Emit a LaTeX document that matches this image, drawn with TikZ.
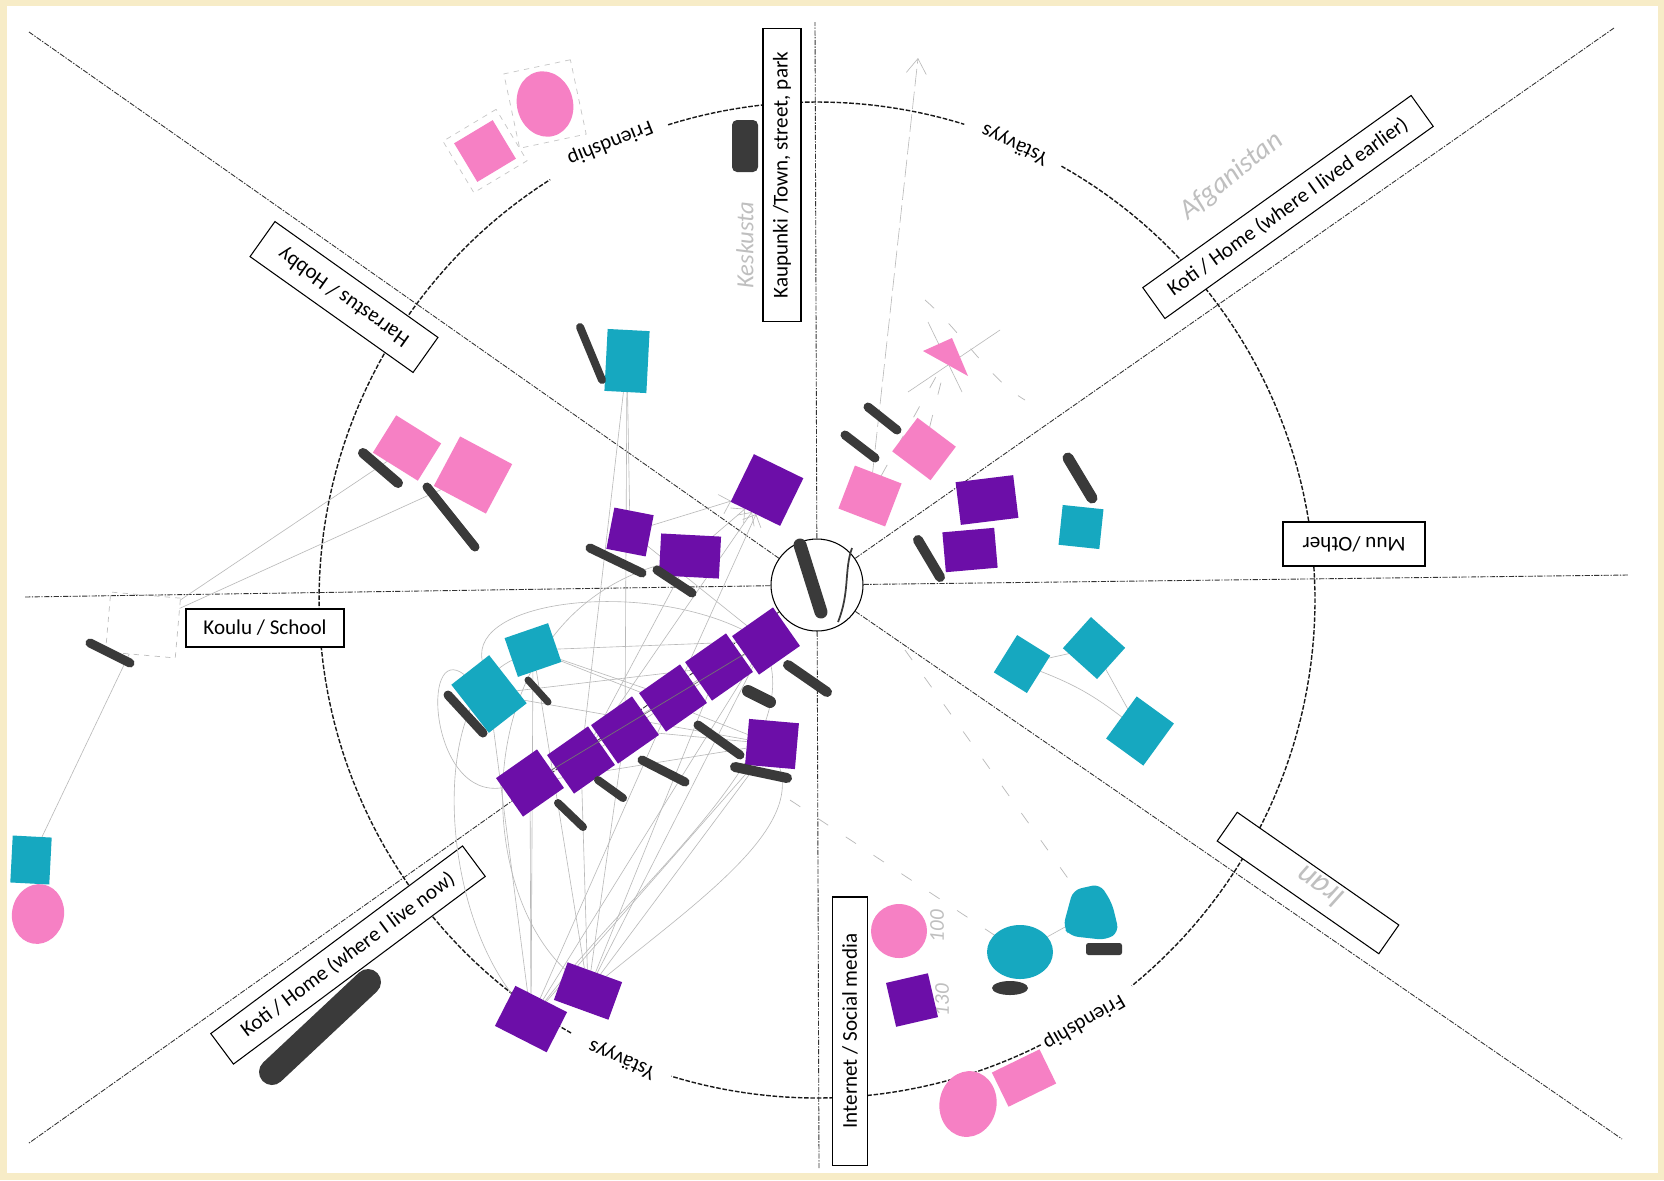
\documentclass[tikz,border=0pt]{standalone}
\usepackage{fontspec}
\setmainfont{Carlito}
\usepackage{tikz}
\usetikzlibrary{arrows.meta,shapes.geometric}
\definecolor{scanbg}{RGB}{247,236,199}
\definecolor{pk}{RGB}{246,128,196}
\definecolor{cy}{RGB}{22,168,192}
\definecolor{pu}{RGB}{108,14,168}
\definecolor{ink}{RGB}{58,58,58}
\pgfdeclarelayer{under}
\pgfsetlayers{under,main}
\tikzset{
  ax/.style={line width=0.5pt,black!80,dash pattern=on 3pt off 0.8pt on 0.8pt off 0.8pt},
  rim/.style={line width=0.8pt,black!90,dash pattern=on 2.6pt off 1pt},
  lbl/.style={draw,line width=0.6pt,fill=white,inner sep=0pt,font=\fontsize{12}{14}\selectfont},
  arclbl/.style={inner sep=0pt,font=\fontsize{12}{14}\selectfont},
  stk/.style={inner sep=0pt,outer sep=0pt},
  pen/.style={ink,line cap=round,line width=#1*0.2mm},
  pen/.default=9,
  pcl/.style={gray!55,line width=0.35pt},
  pcld/.style={gray!55,line width=0.4pt,dash pattern=on 7pt off 12pt},
  hand/.style={gray!50,inner sep=0pt,font=\itshape\fontsize{16}{18}\selectfont}
}
\newcommand{\pxu}{0.2mm}
\newcommand{\stick}[6]{\node[stk,fill=#1,minimum width=#4*\pxu,minimum height=#5*\pxu,rotate=#6] (#2) at (#3) {};}
\newcommand{\blob}[6]{\node[stk,ellipse,fill=#1,minimum width=#4*\pxu,minimum height=#5*\pxu,rotate=#6] (#2) at (#3) {};}

\begin{document}
\begin{tikzpicture}[x=0.2mm,y=-0.2mm]
\useasboundingbox (0,0) rectangle (1664,1180);

\begin{pgfonlayer}{under}
\fill[scanbg] (0,0) rectangle (1664,1180);
\fill[white] (7,6) rectangle (1658,1173);
% sectors
\node[draw,circle,line width=0.6pt,minimum size=92*\pxu,inner sep=0pt] (me) at (817,585) {};
\coordinate (tl) at (29,32); \coordinate (br) at (1622,1139);
\coordinate (bl) at (29,1143); \coordinate (tr) at (1614,28);
\coordinate (hl) at (24,597); \coordinate (hr) at (1628,575);
\coordinate (vt) at (815,22); \coordinate (vb) at (819,1168);
\foreach \e in {tl,br,bl,tr,hl,hr,vt,vb} \draw[ax] (me) -- (\e);
\foreach \a/\b in {63.3/107,119.6/237.6,252.6/287.2,299.4/410.8}
  \draw[rim] plot[domain=\a:\b,samples=70] ({817+498*cos(\x)},{600+498*sin(\x)});
\node[arclbl,rotate=202] (f1) at (610,143) {Friendship};
\node[arclbl,rotate=155] (y1) at (1015,144) {Ystävyys};
\node[arclbl,rotate=156] (y2) at (622,1059) {Ystävyys};
\node[arclbl,rotate=210] (f2) at (1084,1022) {Friendship};
% category boxes
\node[lbl,rotate=90,minimum width=293*\pxu,minimum height=38*\pxu] (town) at (782,175) {Kaupunki /Town, street, park};
\node[lbl,rotate=35.6,minimum width=330*\pxu,minimum height=38*\pxu] (oldhome) at (1288,207) {Koti / Home (where I lived earlier)};
\node[lbl,rotate=180,minimum width=142*\pxu,minimum height=44*\pxu] (other) at (1354,544) {Muu /Other};
\node[lbl,minimum width=158*\pxu,minimum height=38*\pxu] (school) at (265,628) {Koulu / School};
\node[lbl,rotate=144.6,minimum width=200*\pxu,minimum height=43*\pxu] (hobby) at (344,297) {Harrastus / Hobby};
\node[lbl,rotate=36.7,minimum width=314*\pxu,minimum height=38*\pxu] (home) at (348,955) {Koti / Home (where I live now)};
\node[lbl,rotate=90,minimum width=268*\pxu,minimum height=35*\pxu] (net) at (850,1031) {Internet / Social media};
\node[lbl,rotate=-34.9,minimum width=197*\pxu,minimum height=35*\pxu] (iranbox) at (1308,883) {};
\end{pgfonlayer}

% handwriting
\node[hand,rotate=90,font=\itshape\fontsize{14}{16}\selectfont] (kesk) at (745,245) {Keskusta};
\node[hand,rotate=39] (afg) at (1232,176) {Afganistan};
\node[hand,rotate=145,font=\itshape\fontsize{18}{20}\selectfont] (irn) at (1320,887) {Iran};
\node[hand,rotate=90,font=\itshape\fontsize{12}{14}\selectfont] (n100) at (937,926) {100};
\node[hand,rotate=90,font=\itshape\fontsize{12}{14}\selectfont] (n130) at (942,1000) {130};

% stickers
\node[stk,draw=gray!45,dashed,minimum width=62*\pxu,minimum height=60*\pxu,rotate=31] (fr1o) at (485,151) {};
\node[stk,draw=gray!45,dashed,minimum width=68*\pxu,minimum height=76*\pxu,rotate=12] (fr2o) at (545,104) {};
\node[stk,draw=gray!50,dashed,minimum width=70*\pxu,minimum height=60*\pxu,rotate=-5] (sco) at (143,625) {};
\stick{pk}{fr1}{485,151}{45}{45}{31}
\blob{pk}{fr2}{545,104}{56}{66}{15}
\stick{pk}{hb1}{407,448}{53}{44}{-32}
\stick{pk}{hb2}{473,475}{59}{56}{-28}
\stick{pk}{kA}{924,449}{48}{42}{-37}
\stick{pk}{kB}{870,496}{50}{46}{-21}
\blob{pk}{nt1}{899,931}{56}{54}{0}
\blob{pk}{bf1}{968,1104}{57}{66}{-10}
\stick{pk}{bf2}{1024,1078}{53}{38}{26}
\blob{pk}{fl2}{38,914}{52}{60}{-10}
\coordinate (tri) at (948,355);
\fill[pk] (923,351) -- (952,338) -- (968,376) -- cycle;
\stick{cy}{tw1}{627,361}{42}{62}{-3}
\stick{cy}{sc1}{489,694}{61}{48}{-52}
\stick{cy}{sc2}{533,650}{46}{41}{19}
\stick{cy}{mu1}{1081,527}{41}{40}{-6}
\stick{cy}{o1}{1022,664}{44}{39}{58}
\stick{cy}{o2}{1094,648}{42}{46}{48}
\stick{cy}{o3}{1140,731}{52}{46}{54}
\blob{cy}{nt2}{1020,952}{66}{54}{0}
\stick{cy}{fl1}{31,860}{39}{47}{-3}
\coordinate (nt3) at (1092,912);
\fill[cy,rounded corners=1.6mm] (1063,927) -- (1073,890) -- (1100,884) -- (1112,903) -- (1119,932) -- (1106,940) -- (1070,936) -- cycle;
\stick{pu}{pu1}{630,532}{40}{42}{-11}
\stick{pu}{pu2}{690,556}{60}{42}{-3}
\stick{pu}{puU}{767,490}{55}{53}{-26}
\foreach \n/\x/\y in {c1/766/641,c2/719/667,c3/673/698,c4/625/730,c5/581/760,c6/530/783}
  {\stick{pu}{\n}{\x,\y}{50}{47}{35}}
\stick{pu}{pu7}{772,744}{50}{46}{-5}
\stick{pu}{rm1}{588,991}{58}{40}{-20}
\stick{pu}{rm2}{531,1019}{58}{45}{-27}
\stick{pu}{R1}{987,500}{58}{43}{7}
\stick{pu}{R2}{970,550}{52}{40}{5}
\stick{pu}{nt4}{912,1000}{43}{45}{13}

% pencil lines
\begin{pgfonlayer}{under}
\foreach \s/\t in {rm1/c1,rm1/c2,rm1/c4,rm1/c5,rm1/pu7,rm2/c1,rm2/c3,rm2/c6,rm2/sc2,rm2/pu7,sc2/c1,sc2/c3,sc2/pu7,sc1/pu7,sc1/c2,c6/pu7,c5/pu2,pu1/c1,tw1/pu1,tw1/c5,tw1/c4,sc1/rm2,sc2/rm1,c4/pu7,c6/c2,c5/c1}
  \draw[pcl] (\s) -- (\t);
\foreach \s in {c3,pu1,pu2,c5}
  \draw[pcl,-{Straight Barb[length=2mm]}] (\s) -- (puU);
\draw[pcl] (c6) .. controls (430,800) and (420,640) .. (sc1);
\draw[pcl] (rm2) .. controls (440,900) and (430,700) .. (sc2);
\draw[pcl] (rm1) .. controls (470,880) and (470,620) .. (pu2);
\draw[pcl] (sc1) .. controls (470,600) and (640,580) .. (c1);
\draw[pcl] (rm1) .. controls (700,900) and (800,830) .. (pu7);
\draw[pcl] (rm2) .. controls (640,880) and (790,760) .. (c1);
\draw[pcl] (hb1) -- (sco);
\draw[pcl] (hb2) -- (sco);
\draw[pcl] (sco) -- (fl1);
\draw[pcld] (kA) -- (tri);
\draw[pcld] (kB) -- (tri);
\coordinate (up) at (918,58);
\draw[pcl,dash pattern=on 10pt off 3pt,-{Straight Barb[length=3mm,width=4mm]}] (kB) -- (up);
\draw[pcl] (908,392) -- (1000,330);
\draw[pcl] (928,322) -- (962,392);
\draw[pcld] (925,300) .. controls (960,330) and (990,380) .. (1025,400);
\draw[pcl] (o1) -- (o2);
\draw[pcl] (o2) -- (o3);
\draw[pcl] (o1) to[bend left=8] (o3);
\draw[pcl] (nt2) -- (nt3);
\coordinate (d1) at (905,650);
\coordinate (d2) at (790,800);
\draw[pcld,-{Straight Barb[length=3mm,width=4mm]}] (d1) -- (nt3);
\draw[pcld] (d2) -- (nt2);
\end{pgfonlayer}
\draw[black!55,line width=0.4pt] (c6) -- (c1);

% marker pens
\node[stk,fill=ink,rounded corners=1mm,minimum width=26*\pxu,minimum height=52*\pxu] (blk) at (745,146) {};
\draw[pen=8] (580,327) -- (602,380);
\draw[pen=10] (363,453) -- (398,483);
\draw[pen] (427,487) -- (475,547);
\draw[pen] (590,548) -- (642,573);
\draw[pen] (657,570) -- (692,593);
\draw[pen] (448,695) -- (483,733);
\draw[pen=7] (528,680) -- (548,702);
\draw[pen=10] (788,665) -- (827,692);
\draw[pen=12] (748,691) -- (770,702);
\draw[pen] (698,725) -- (740,755);
\draw[pen=10] (735,767) -- (787,778);
\draw[pen] (642,760) -- (685,782);
\draw[pen=8] (598,780) -- (623,798);
\draw[pen=8] (558,803) -- (583,827);
\draw[pen] (868,407) -- (897,430);
\draw[pen] (845,435) -- (875,458);
\draw[pen=10] (918,540) -- (940,577);
\draw[pen=11] (1068,458) -- (1092,498);
\draw[pen] (90,643) -- (130,663);
\draw[pen=26] (272,1072) -- (368,982);
\draw[pen=13] (800,545) -- (821,612);
\draw[ink,line width=1pt] (838,622) .. controls (850,592) and (844,570) .. (852,548);
\fill[ink] (1010,988) ellipse [x radius=18,y radius=7];
\fill[ink,rounded corners=0.5mm] (1086,943) rectangle (1122,955);
\end{tikzpicture}
\end{document}
